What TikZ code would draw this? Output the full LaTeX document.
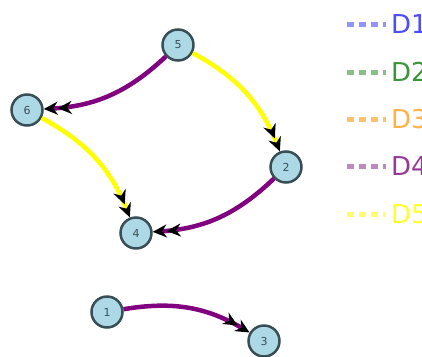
\documentclass[tikz,border=0pt]{standalone}
\usepackage{fontspec}
\setsansfont{DejaVu Sans}
\usetikzlibrary{arrows.meta}
\definecolor{nodefill}{HTML}{ADD8E6}
\definecolor{nodeedge}{HTML}{3A4E55}
\definecolor{epurple}{HTML}{800080}
\definecolor{eyellow}{HTML}{FFFF00}
\definecolor{lblue}{HTML}{4B4BFF}
\definecolor{lgreen}{HTML}{3A963A}
\definecolor{lorange}{HTML}{FFB347}
\definecolor{lpurple}{HTML}{953A95}
\definecolor{lyellow}{HTML}{FFFF30}
\begin{document}
\begin{tikzpicture}[x=1pt,y=-1pt,
  vert/.style={circle,draw=nodeedge,fill=nodefill,line width=2.5pt,minimum size=31pt,inner sep=0pt,
     font=\sffamily\fontsize{11}{11}\selectfont,text=nodeedge},
  edge/.style={line width=4.5pt,bend left=20,
     -{Stealth[length=14pt,width=13pt,color=black]Stealth[length=14pt,width=13pt,color=black]}},
  legline/.style={line width=5pt,dash pattern=on 7pt off 5pt},
  legtext/.style={anchor=west,font=\sffamily\fontsize{26}{26}\selectfont,inner sep=0pt}]
\useasboundingbox (0,0) rectangle (422,356);
\node[vert] (n5) at (178,45) {5};
\node[vert] (n6) at (27,110) {6};
\node[vert] (n2) at (286,167) {2};
\node[vert] (n4) at (136,233) {4};
\node[vert] (n1) at (107,312) {1};
\node[vert] (n3) at (264,341) {3};
\draw[edge,draw=epurple] (n5) to (n6);
\draw[edge,draw=eyellow] (n5) to (n2);
\draw[edge,draw=eyellow] (n6) to (n4);
\draw[edge,draw=epurple] (n2) to (n4);
\draw[edge,draw=epurple] (n1) to (n3);
% legend
\coordinate (a1) at (347,24); \coordinate (b1) at (386,24);
\coordinate (a2) at (347,72); \coordinate (b2) at (386,72);
\coordinate (a3) at (347,119); \coordinate (b3) at (386,119);
\coordinate (a4) at (347,166); \coordinate (b4) at (386,166);
\coordinate (a5) at (347,214); \coordinate (b5) at (386,214);
\draw[legline,draw=lblue!60] (a1) -- (b1);
\draw[legline,draw=lgreen!60] (a2) -- (b2);
\draw[legline,draw=lorange!80] (a3) -- (b3);
\draw[legline,draw=lpurple!60] (a4) -- (b4);
\draw[legline,draw=lyellow!70] (a5) -- (b5);
\node[legtext,text=lblue] (t1) at (391,24) {D1};
\node[legtext,text=lgreen] (t2) at (391,72) {D2};
\node[legtext,text=lorange] (t3) at (391,119) {D3};
\node[legtext,text=lpurple] (t4) at (391,166) {D4};
\node[legtext,text=lyellow] (t5) at (391,214) {D5};
\end{tikzpicture}
\end{document}
